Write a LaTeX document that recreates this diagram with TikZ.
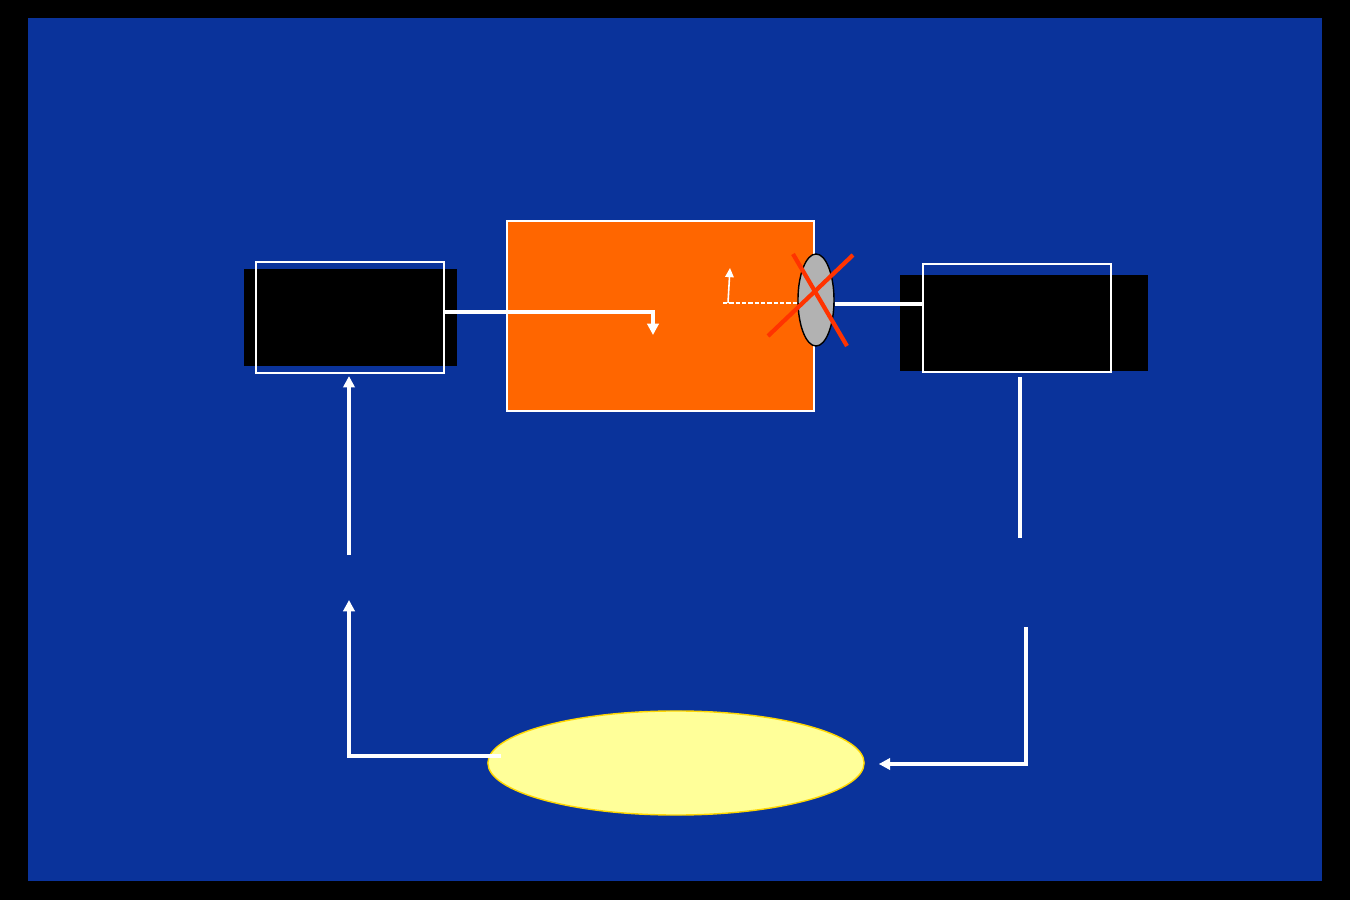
\documentclass[tikz,border=0pt]{standalone}
\usepackage{tikz}
\usetikzlibrary{calc, positioning, arrows.meta, shapes.geometric}
\definecolor{Fondo}{RGB}{10,51,155}
\definecolor{Naranja}{RGB}{255,102,0}
\definecolor{Amarillo}{RGB}{255,255,153}
\definecolor{Oro}{RGB}{255,215,0}
\definecolor{Rojo}{RGB}{255,51,0}
\begin{document}
\begin{tikzpicture}[x=0.01cm, y=-0.01cm,
  sombra/.style={rectangle, fill=black, draw=none, inner sep=0pt},
  caja/.style={rectangle, draw=white, line width=0.6pt, inner sep=0pt,
    minimum width=1.88cm},
  nucleo/.style={rectangle, draw=white, line width=0.5pt, fill=Naranja,
    inner sep=0pt, minimum width=3.07cm, minimum height=1.90cm},
  valvula/.style={ellipse, draw=black, line width=0.4pt, fill=gray!60,
    inner sep=0pt, minimum width=0.36cm, minimum height=0.92cm},
  charco/.style={ellipse, draw=Oro, line width=0.4pt, fill=Amarillo,
    inner sep=0pt, minimum width=3.76cm, minimum height=1.04cm},
  fa/.style={-{Triangle[length=3.2pt, width=3.2pt]}, white, line width=1.05pt},
  fl/.style={white, line width=1.05pt},
  fd/.style={white, line width=0.5pt, dash pattern=on 1.2pt off 0.6pt},
  ff/.style={-{Triangle[length=2.6pt, width=2.4pt]}, white, line width=0.45pt},
  cruz/.style={Rojo, line width=1.2pt}
]

%% ── Fondo ────────────────────────────────────────────────────────────
\fill[black] (0,0) rectangle (1350,900);
\fill[Fondo] (28,18) rectangle (1322,881);
\useasboundingbox (0,0) rectangle (1350,900);

%% ── Cajas (fila 1) ───────────────────────────────────────────────────
\node[sombra, minimum width=2.13cm, minimum height=0.97cm] (LS) at (350.5, 317.5) {};
\node[caja, minimum height=1.11cm] (LB) at (350, 317.5) {};

\node[nucleo] (NC) at (660.5, 316) {};

\node[sombra, minimum width=2.48cm, minimum height=0.96cm] (RS) at (1024, 323) {};
\node[caja, minimum height=1.08cm] (RB) at (1017, 318) {};

\node[valvula] (VA) at (816, 300) {};
\draw[cruz] ($(VA.center)+(-23,-46)$) -- ($(VA.center)+(31,46)$);
\draw[cruz] ($(VA.center)+(37,-45)$) -- ($(VA.center)+(-48,36)$);

%% ── Conexiones de la fila 1 ─────────────────────────────────────────
\draw[fa] ($(LB.east)+(0,-5.5)$) -- (653, 312) -- (653, 335);
\coordinate (D0) at (723, 303);
\draw[fd] (D0) -- ($(VA.west)+(0,3)$);
\draw[ff] ($(D0)+(5,0)$) -- ++(2,-35);
\draw[fl] ($(VA.east)+(0,4)$) -- ($(RB.west)+(2,-14)$);

%% ── Charco (fila 3) ──────────────────────────────────────────────────
\node[charco] (CH) at (676, 763) {};

%% ── Retorno ──────────────────────────────────────────────────────────
\coordinate (R1) at (1020, 538);
\coordinate (R2) at (1026, 627);
\draw[fl] ($(RB.south)+(3,4)$) -- (R1);
\draw[fa] (R2) -- (R2 |- 0,764) -- ($(CH.east)+(14,1)$);

\coordinate (L1) at (349, 555);
\coordinate (L2) at (349, 600);
\draw[fa] ($(CH.west)+(14,-7)$) -- (L2 |- 0,756) -- (L2);
\draw[fa] (L1) -- ($(LB.south)+(-1,2)$);

\end{tikzpicture}
\end{document}
